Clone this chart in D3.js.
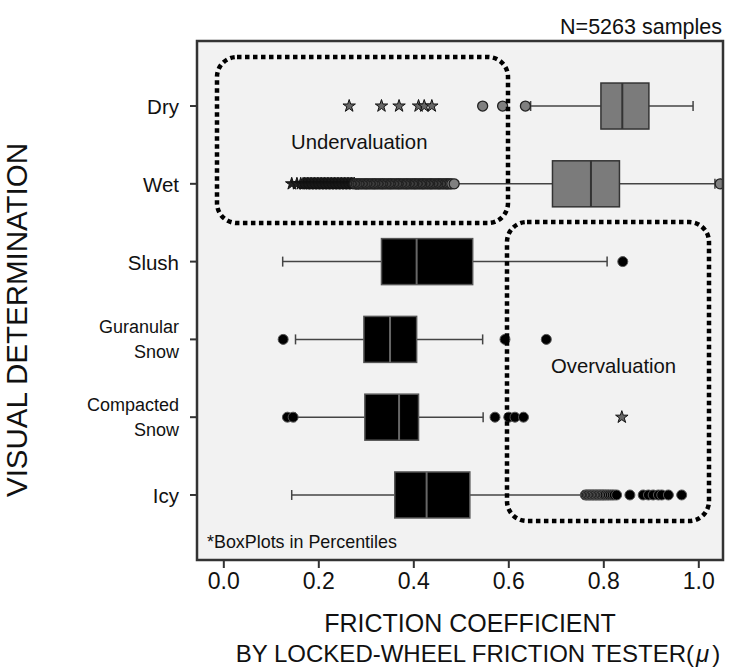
<!DOCTYPE html>
<html><head><meta charset="utf-8">
<script src="https://cdn.jsdelivr.net/npm/d3@7"></script>
<style>body{margin:0;background:#fff} text{font-family:"Liberation Sans",Arial,sans-serif;fill:#111}</style>
</head><body><svg id="c" width="732" height="671"></svg>
<script>
// ---- data ----
const categories = ["Dry", "Wet", "Slush", "Guranular Snow", "Compacted Snow", "Icy"];
const whiskerLow  = [0.647, 0.490, 0.125, 0.152, 0.151, 0.144];
const q1          = [0.795, 0.693, 0.333, 0.296, 0.298, 0.361];
const median      = [0.840, 0.774, 0.407, 0.351, 0.370, 0.428];
const q3          = [0.896, 0.834, 0.525, 0.407, 0.411, 0.519];
const whiskerHigh = [0.989, 1.035, 0.808, 0.546, 0.547, 0.758];
const outlierCircles = [
  [0.546, 0.588, 0.636],
  [0.277, 0.280, 0.283, 0.285, 0.288, 0.291, 0.294, 0.297, 0.300, 0.302, 0.305, 0.308, 0.311, 0.314, 0.317, 0.319, 0.322, 0.325, 0.328, 0.331, 0.334, 0.336, 0.339, 0.342, 0.345, 0.348, 0.351, 0.353, 0.356, 0.359, 0.362, 0.365, 0.368, 0.370, 0.373, 0.376, 0.379, 0.382, 0.385, 0.387, 0.390, 0.393, 0.396, 0.399, 0.402, 0.404, 0.407, 0.410, 0.413, 0.416, 0.419, 0.421, 0.424, 0.427, 0.430, 0.433, 0.436, 0.438, 0.441, 0.444, 0.447, 0.450, 0.453, 0.455, 0.458, 0.461, 0.464, 0.467, 0.470, 0.472, 0.475, 0.478, 0.481, 0.486, 1.046],
  [0.841],
  [0.126, 0.593, 0.680],
  [0.135, 0.147, 0.572, 0.601, 0.614, 0.632],
  [0.762, 0.765, 0.768, 0.771, 0.774, 0.777, 0.780, 0.783, 0.786, 0.789, 0.792, 0.795, 0.798, 0.801, 0.804, 0.808, 0.811, 0.815, 0.819, 0.823, 0.828, 0.856, 0.884, 0.895, 0.905, 0.916, 0.923, 0.937, 0.965]
];
const outlierStars = [
  [0.265, 0.333, 0.370, 0.411, 0.423, 0.439],
  [0.144, 0.155, 0.163, 0.168, 0.171, 0.174, 0.177, 0.180, 0.183, 0.186, 0.189, 0.192, 0.195, 0.198, 0.201, 0.204, 0.207, 0.210, 0.213, 0.216, 0.219, 0.222, 0.225, 0.228, 0.231, 0.234, 0.237, 0.240, 0.243, 0.246, 0.249, 0.252, 0.255, 0.258, 0.261, 0.264, 0.267, 0.270, 0.273, 0.276],
  [], [], [0.839], []
];
const xTicks = [0.0, 0.2, 0.4, 0.6, 0.8, 1.0];
const sampleNote = "N=5263 samples";

// ---- layout ----
const svg = d3.select("#c");
const L = 197, R = 723, T = 41, B = 560;
const x = d3.scaleLinear().domain([-0.0554, 1.052]).range([L, R]);
const y = d3.scalePoint().domain(categories).range([T, B]).padding(0.836);
const boxH = 46;
const grayCat = i => i < 2;

svg.append("rect").attr("x", 0).attr("y", 0).attr("width", 732).attr("height", 671).attr("fill", "#fff");
svg.append("rect").attr("x", L).attr("y", T).attr("width", R - L).attr("height", B - T).attr("fill", "#f2f2f2");

svg.append("clipPath").attr("id", "clip").append("rect")
  .attr("x", L).attr("y", T).attr("width", R - L).attr("height", B - T);
const g = svg.append("g").attr("clip-path", "url(#clip)");

categories.forEach((c, i) => {
  const cy = y(c);
  const gg = g.append("g");
  gg.append("line").attr("x1", x(whiskerLow[i])).attr("x2", x(q1[i])).attr("y1", cy).attr("y2", cy)
    .attr("stroke", "#444").attr("stroke-width", 1.5);
  gg.append("line").attr("x1", x(q3[i])).attr("x2", x(whiskerHigh[i])).attr("y1", cy).attr("y2", cy)
    .attr("stroke", "#444").attr("stroke-width", 1.5);
  [whiskerLow[i], whiskerHigh[i]].forEach(v => {
    gg.append("line").attr("x1", x(v)).attr("x2", x(v)).attr("y1", cy - 5).attr("y2", cy + 5)
      .attr("stroke", "#444").attr("stroke-width", 1.5);
  });
  gg.append("rect").attr("x", x(q1[i])).attr("y", cy - boxH / 2)
    .attr("width", x(q3[i]) - x(q1[i])).attr("height", boxH)
    .attr("fill", grayCat(i) ? "#7b7b7b" : "#000")
    .attr("stroke", grayCat(i) ? "#333" : "#555").attr("stroke-width", 1.5);
  gg.append("line").attr("x1", x(median[i])).attr("x2", x(median[i]))
    .attr("y1", cy - boxH / 2).attr("y2", cy + boxH / 2)
    .attr("stroke", grayCat(i) ? "#333" : "#666").attr("stroke-width", 2);
  outlierStars[i].forEach(v => {
    gg.append("path").attr("d", d3.symbol(d3.symbolStar, 48)())
      .attr("transform", `translate(${x(v)},${cy})`)
      .attr("fill", i === 1 ? "#222" : "#666")
      .attr("stroke", "#111").attr("stroke-width", 1);
  });
  outlierCircles[i].forEach(v => {
    gg.append("circle").attr("cx", x(v)).attr("cy", cy).attr("r", 5)
      .attr("fill", grayCat(i) ? "#808080" : "#000")
      .attr("stroke", grayCat(i) ? "#222" : "#555").attr("stroke-width", grayCat(i) ? 1.3 : 1);
  });
});

// dotted annotation boxes
function dotted(x0, y0, x1, y1) {
  svg.append("rect").attr("x", x0).attr("y", y0).attr("width", x1 - x0).attr("height", y1 - y0)
    .attr("rx", 20).attr("ry", 20).attr("fill", "none")
    .attr("stroke", "#000").attr("stroke-width", 4.5).attr("stroke-dasharray", "4.5 3.5");
}
dotted(217, 57, 508, 223);
dotted(507, 222, 709, 521);

svg.append("text").attr("x", 291).attr("y", 149).attr("font-size", 20.3).text("Undervaluation");
svg.append("text").attr("x", 551).attr("y", 373).attr("font-size", 20.3).text("Overvaluation");
svg.append("text").attr("x", 207).attr("y", 548).attr("font-size", 17.9).text("*BoxPlots in Percentiles");

// frame
svg.append("rect").attr("x", L).attr("y", T).attr("width", R - L).attr("height", B - T)
  .attr("fill", "none").attr("stroke", "#333").attr("stroke-width", 2.5);

// x axis
const xa = svg.append("g").attr("transform", `translate(0,${B})`)
  .call(d3.axisBottom(x).tickValues(xTicks).tickFormat(d3.format(".1f")).tickSize(8).tickPadding(5));
xa.select(".domain").remove();
xa.selectAll(".tick line").attr("stroke", "#333").attr("stroke-width", 2);
xa.selectAll(".tick text").attr("font-size", 23).attr("fill", "#111")
  .attr("font-family", "Liberation Sans, Arial, sans-serif");

// y axis (category ticks and labels)
categories.forEach(c => {
  const cy = y(c);
  svg.append("line").attr("x1", L - 7).attr("x2", L).attr("y1", cy).attr("y2", cy)
    .attr("stroke", "#333").attr("stroke-width", 2);
  const parts = c.split(" ");
  const t = svg.append("text").attr("x", 179).attr("text-anchor", "end")
    .attr("font-size", parts.length > 1 ? 18 : 20.5)
    .attr("dominant-baseline", "central");
  parts.forEach((p, k) => {
    t.append("tspan").attr("x", 179).attr("y", cy + (k - (parts.length - 1) / 2) * 25).text(p);
  });
});

// titles
svg.append("text").attr("x", 722).attr("y", 34).attr("text-anchor", "end").attr("font-size", 21.5).text(sampleNote);
svg.append("text").attr("x", 470).attr("y", 632).attr("text-anchor", "middle").attr("font-size", 25)
  .text("FRICTION COEFFICIENT");
const t2 = svg.append("text").attr("x", 478).attr("y", 662).attr("text-anchor", "middle").attr("font-size", 24);
t2.append("tspan").text("BY LOCKED-WHEEL FRICTION TESTER(");
t2.append("tspan").attr("font-style", "italic").attr("dx", 2).text("μ");
t2.append("tspan").attr("dx", 3).text(")");
svg.append("text").attr("transform", "translate(27,320) rotate(-90)").attr("text-anchor", "middle")
  .attr("font-size", 29.5).text("VISUAL DETERMINATION");
</script></body></html>
